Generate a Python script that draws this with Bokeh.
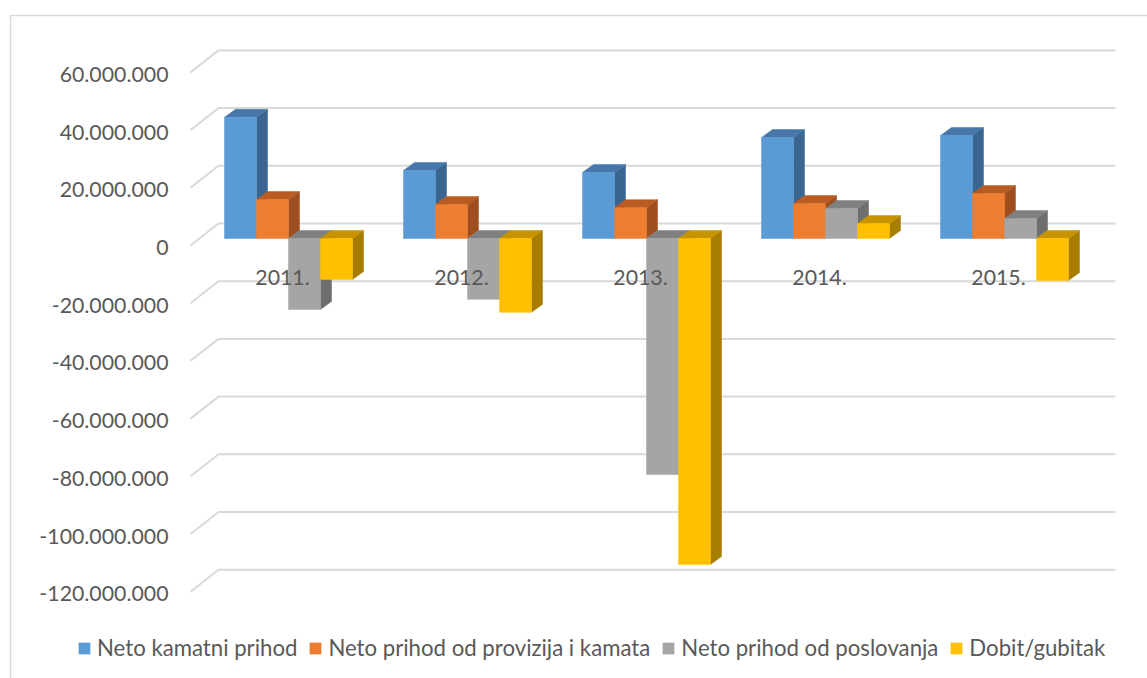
from bokeh.plotting import figure
from bokeh.models import Range1d, Legend, LegendItem, ColumnDataSource
from bokeh.core.properties import value
from bokeh.embed import file_html
from bokeh.resources import INLINE

# ---------------- data ----------------
categories = ["2011.", "2012.", "2013.", "2014.", "2015."]
series_names = ["Neto kamatni prihod", "Neto prihod od provizija i kamata",
                "Neto prihod od poslovanja", "Dobit/gubitak"]
neto_kamatni_prihod = [42.0e6, 23.6e6, 22.9e6, 35.0e6, 35.7e6]
neto_prihod_provizija = [13.5e6, 11.8e6, 10.7e6, 12.1e6, 15.6e6]
neto_prihod_poslovanja = [-24.6e6, -21.1e6, -81.8e6, 10.4e6, 6.9e6]
dobit_gubitak = [-14.2e6, -25.6e6, -113.0e6, 5.2e6, -14.6e6]
tick_values = [60e6, 40e6, 20e6, 0, -20e6, -40e6, -60e6, -80e6, -100e6, -120e6]
tick_labels = ["60.000.000", "40.000.000", "20.000.000", "0", "-20.000.000",
               "-40.000.000", "-60.000.000", "-80.000.000", "-100.000.000",
               "-120.000.000"]

series_values = [neto_kamatni_prihod, neto_prihod_provizija,
                 neto_prihod_poslovanja, dobit_gubitak]
front_colors = ["#5B9BD5", "#ED7D31", "#A5A5A5", "#FFC000"]
top_colors = ["#4676AA", "#B85C23", "#808080", "#C79400"]
side_colors = ["#3B6591", "#9E4E1F", "#6E6E6E", "#A67D00"]

# ---------------- geometry (pixel -> data helpers) ----------------
W, H = 1147, 678
PX_X = 179.0            # px per category
KY = 57.7 / 20e6        # px per value unit
X0 = 288.0              # px of first category centre
Y0 = 245.0              # px of value 0 on front plane


def ux(px):  # horizontal px distance -> category units
    return px / PX_X


def uy(px):  # vertical px distance -> value units
    return px / KY


def xi(img_x):
    return (img_x - X0) / PX_X


def yi(img_y):
    return (Y0 - img_y) / KY


p = figure(width=W, height=H, output_backend="svg", toolbar_location=None,
           x_range=Range1d(xi(0), xi(W)), y_range=Range1d(yi(H), yi(0)),
           min_border=0)
p.axis.visible = False
p.grid.visible = False
p.outline_line_color = None
p.background_fill_color = "white"
p.border_fill_color = "white"

FONT = value("Lato")
TXT = "#595959"
FS = "21.3px"
LFS = "22.2px"

# outer chart border (left + top)
p.line([xi(10), xi(10), xi(1200)], [yi(720), yi(15), yi(15)],
       line_color="#D9D9D9", line_width=1.5)

# gridlines with perspective floor
gd = uy(22)
gx = [[xi(190), xi(218), xi(1115)] for t in tick_values]
gy = [[t, t + gd, t + gd] for t in tick_values]
p.multi_line(gx, gy, line_color="#D9D9D9", line_width=2)

# y tick labels
p.text(x=[xi(168)] * len(tick_values), y=tick_values, text=tick_labels,
       text_align="right", text_baseline="middle", y_offset=2,
       text_font=FONT, text_font_size=FS, text_color=TXT)

# bars
bw = ux(32)
base = uy(7)
ddx = ux(11)
ddy = uy(8)
items = []
for s, vals in enumerate(series_values):
    xs_c = [i + (s - 1.5) * bw for i in range(len(categories))]
    tops = [base + max(v, 0) for v in vals]
    bots = [base + min(v, 0) for v in vals]
    side_x, side_y, top_x, top_y = [], [], [], []
    for xc, yt, yb in zip(xs_c, tops, bots):
        xl, xr = xc - bw / 2, xc + bw / 2
        side_x.append([xr, xr + ddx, xr + ddx, xr])
        side_y.append([yb, yb + ddy, yt + ddy, yt])
        top_x.append([xl, xr, xr + ddx, xl + ddx])
        top_y.append([yt, yt, yt + ddy, yt + ddy])
    p.patches(side_x, side_y, fill_color=side_colors[s], line_color=side_colors[s], line_width=0.5)
    p.patches(top_x, top_y, fill_color=top_colors[s], line_color=top_colors[s], line_width=0.5)
    src = ColumnDataSource(dict(x=xs_c, top=tops, bottom=bots))
    r = p.vbar(x="x", top="top", bottom="bottom", width=bw, source=src,
               fill_color=front_colors[s], line_color=front_colors[s], line_width=0.5)
    items.append(LegendItem(label=series_names[s], renderers=[r]))

# category labels
p.text(x=[i + ux(-6) for i in range(len(categories))], y=[yi(277)] * len(categories),
       text=categories, text_align="center", text_baseline="middle",
       text_font=FONT, text_font_size=FS, text_color=TXT)

legend = Legend(items=items, orientation="horizontal", location=(77, 17),
                glyph_width=14, glyph_height=14, label_height=14,
                label_standoff=6, spacing=11, padding=0, margin=0,
                border_line_color=None, background_fill_alpha=0,
                label_text_font="Lato", label_text_font_size=LFS,
                label_text_color=TXT)
p.add_layout(legend, "center")

open("out.html", "w").write(file_html(p, INLINE))
